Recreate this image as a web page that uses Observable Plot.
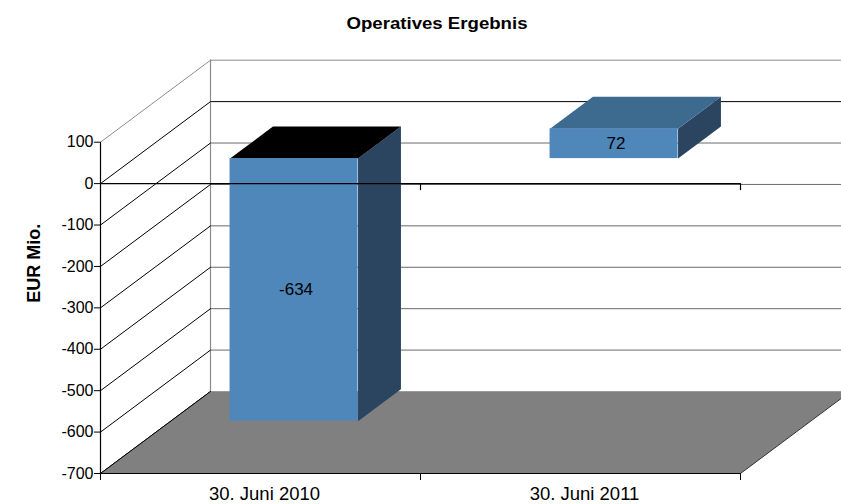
<!DOCTYPE html>
<html><head><meta charset="utf-8">
<script src="https://cdn.jsdelivr.net/npm/d3@7"></script>
<script src="https://cdn.jsdelivr.net/npm/@observablehq/plot@0.6"></script>
<style>body{margin:0;background:#fff}</style>
</head><body><div id="chart"></div>
<script>
// ---- data ----
const title = "Operatives Ergebnis";
const yLabel = "EUR Mio.";
const categories = ["30. Juni 2010", "30. Juni 2011"];
const values = [-634, 72];
const yTicks = [100, 0, -100, -200, -300, -400, -500, -600, -700];

// ---- layout / projection ----
const W = 841, H = 504;
const mL = 100, mR = 101, mT = 141.7, mB = 31;
const xDomain = [0, categories.length];
const yDomain = [-700, 100];
const pxPerX = (W - mL - mR) / (xDomain[1] - xDomain[0]);
const pxPerY = (H - mT - mB) / (yDomain[1] - yDomain[0]);
const depthPx = [110, -82];               // full wall depth in pixels
const DX = depthPx[0] / pxPerX;           // in x data units
const DY = -depthPx[1] / pxPerY;          // in y data units
const P = (c, v, d) => ({x: c + d * DX, y: v + d * DY});

const vMax = yDomain[1], vMin = yDomain[0], cMax = xDomain[1];

// back wall gridlines
const backLines = yTicks.flatMap(v => [P(0, v, 1), P(cMax, v, 1)].map(p => ({...p, id: v})));
const backEdge = [P(0, vMax, 1), P(0, vMin, 1)];
const sideLines = yTicks.flatMap(v => [P(0, v, 0), P(0, v, 1)].map(p => ({...p, id: v})));
const floor = [P(0, vMin, 0), P(cMax, vMin, 0), P(cMax, vMin, 1), P(0, vMin, 1)];
const floorBack = [P(0, vMin, 1), P(cMax, vMin, 1)];
const floorRight = [P(cMax, vMin, 0), P(cMax, vMin, 1)];

// bars
const barW = 0.4, d0 = 0.305, d1 = 0.695;
const bars = values.map((v, i) => {
  const x0 = i + (1 - barW) / 2, x1 = x0 + barW;
  const lo = Math.min(0, v), hi = Math.max(0, v);
  return {i, v, x0, x1, lo, hi};
});
const sides = bars.flatMap(b => [P(b.x1, b.lo, d0), P(b.x1, b.hi, d0), P(b.x1, b.hi, d1), P(b.x1, b.lo, d1)].map(p => ({...p, id: b.i})));
const tops = bars.flatMap(b => [P(b.x0, b.hi, d0), P(b.x1, b.hi, d0), P(b.x1, b.hi, d1), P(b.x0, b.hi, d1)].map(p => ({...p, id: b.i, neg: b.v < 0})));
const fronts = bars.map(b => ({x1: P(b.x0, 0, d0).x, x2: P(b.x1, 0, d0).x, y1: P(0, b.lo, d0).y, y2: P(0, b.hi, d0).y}));
const labels = bars.map(b => ({...P((b.x0 + b.x1) / 2, (b.lo + b.hi) / 2, d0), t: String(b.v)}));

const tickLenY = 7 / pxPerY;
const font = "Liberation Sans, Arial, Helvetica, sans-serif";

const chart = Plot.plot({
  width: W, height: H,
  marginLeft: mL, marginRight: mR, marginTop: mT, marginBottom: mB,
  style: {fontFamily: font, background: "#fff", color: "#000"},
  x: {type: "linear", domain: xDomain},
  y: {type: "linear", domain: yDomain},
  marks: [
    // back wall
    Plot.line(backLines, {x: "x", y: "y", z: "id", stroke: d => d.id === 0 ? "#000" : (d.id === vMax ? "#8c8c8c" : "#6a6a6a"), strokeWidth: 1}),
    Plot.line(backEdge, {x: "x", y: "y", stroke: "#8c8c8c", strokeWidth: 1.2}),
    // side wall
    Plot.line(sideLines, {x: "x", y: "y", z: "id", stroke: d => d.id === vMax ? "#8c8c8c" : "#000", strokeWidth: 1}),
    // floor
    Plot.line(floor, {x: "x", y: "y", fill: "#808080", stroke: "none"}),
    Plot.line(floorBack, {x: "x", y: "y", stroke: "#9a9a9a", strokeWidth: 1}),
    Plot.line(floorRight, {x: "x", y: "y", stroke: "#333", strokeWidth: 1}),
    Plot.line(sideLines.filter(d => d.id === vMin), {x: "x", y: "y", stroke: "#000", strokeWidth: 1}),
    // bars
    Plot.line(sides, {x: "x", y: "y", z: "id", fill: "#2b4561", stroke: "none"}),
    Plot.line(tops, {x: "x", y: "y", z: "id", fill: d => d.neg ? "#000" : "#3d6a8f", stroke: "none"}),
    Plot.rect(fronts, {x1: "x1", x2: "x2", y1: "y1", y2: "y2", fill: "#4f87ba"}),
    // front axes
    Plot.ruleY([0], {stroke: "#000", strokeWidth: 1.2}),
    Plot.ruleY([vMin], {stroke: "#000", strokeWidth: 1.2}),
    Plot.ruleX([0], {stroke: "#000", strokeWidth: 1.2}),
    Plot.ruleX(d3.range(1, cMax + 1), {y1: 0, y2: -tickLenY, stroke: "#000", strokeWidth: 1.2}),
    Plot.axisY({ticks: yTicks, tickFormat: d => String(d), tickSize: 6, tickPadding: 1, fontSize: 16, label: null, stroke: "#000"}),
    Plot.axisX({ticks: d3.range(0, cMax + 1), tickFormat: () => "", tickSize: 7, label: null, stroke: "#000"}),
    Plot.text(categories, {x: (d, i) => i + 0.5, frameAnchor: "bottom", lineAnchor: "top", dy: 13.5, dx: 4, fontSize: 18.5, fill: "#000"}),
    // value labels
    Plot.text(labels, {x: "x", y: "y", text: "t", fontSize: 17, fill: "#000", dx: 2}),
    // y label
    Plot.text([yLabel], {frameAnchor: "left", rotate: -90, dx: -66, dy: -5, fontSize: 18, fontWeight: "bold", fill: "#000"}),
    // title
    Plot.text([title], {frameAnchor: "top", dx: 16.5, dy: -125.5, fontSize: 17, fontWeight: "bold", fill: "#000"})
  ]
});
d3.select(chart).selectAll("text").filter(function() { return this.textContent === title; })
  .attr("textLength", 181).attr("lengthAdjust", "spacingAndGlyphs");
document.getElementById("chart").appendChild(chart);
</script>
</body></html>
